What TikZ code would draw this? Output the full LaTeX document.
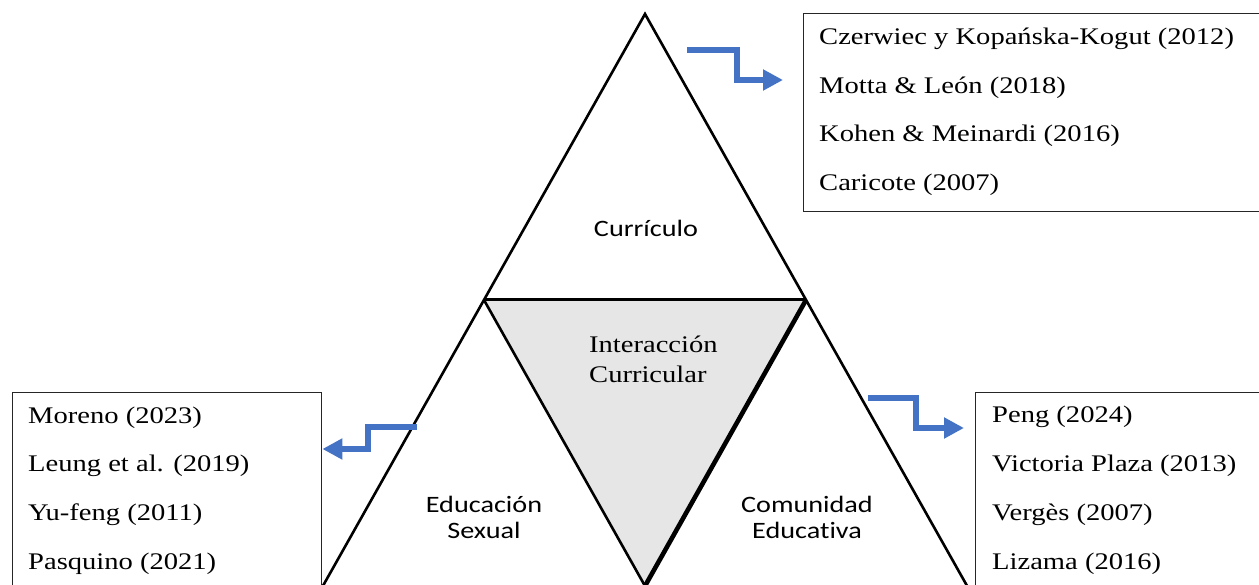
\documentclass[tikz,border=0pt]{standalone}
\usepackage{fontspec}
\setmainfont[FakeStretch=1.2]{Liberation Serif}
\newfontfamily\labelsans[FakeStretch=1.2,Ligatures=NoCommon]{Carlito}
\usetikzlibrary{arrows.meta}
\definecolor{arrowblue}{HTML}{4472C4}
\definecolor{innergray}{HTML}{E6E6E6}
\tikzset{
  edgeline/.style={line width=2.6pt, line join=miter},
  refbox/.style={draw=black!85, line width=1.4pt, rectangle, inner sep=0pt, fill=white},
  reftext/.style={anchor=base west, inner sep=0pt, font=\fontsize{23.8}{28}\selectfont},
  serlabel/.style={anchor=base west, inner sep=0pt, font=\fontsize{23.8}{28}\selectfont},
  sanslabel/.style={anchor=base, inner sep=0pt, font=\labelsans\fontsize{23.5}{28}\selectfont},
  bluearrow/.style={draw=arrowblue, line width=6.2pt, line join=miter,
    -{Triangle[length=20pt,width=20pt]}},
}
\begin{document}
\begin{tikzpicture}[x=1pt,y=-1pt]
\useasboundingbox (0,0) rectangle (1259,585);
\clip (0,0) rectangle (1259,585);
% triangle geometry
\coordinate (apex) at (645,14);
\coordinate (midL) at (484,300);
\coordinate (midR) at (806,300);
\coordinate (botL) at (315,600);
\coordinate (botR) at (975,600);
\coordinate (inbot) at (645,586);
% inner triangle
\fill[innergray] (midL) -- (midR) -- (inbot) -- cycle;
\draw[edgeline] (midL) -- (inbot);
\draw[line width=4.6pt] (midR) -- (inbot);
\draw[line width=3pt] (midL) -- (midR);
% outer triangle
\draw[edgeline] (botL) -- (apex) -- (botR);
% boxes
\node[refbox, anchor=north west, minimum width=470pt, minimum height=198pt] (boxT) at (803,13) {};
\node[refbox, anchor=north west, minimum width=309pt, minimum height=220pt] (boxL) at (12,392) {};
\node[refbox, anchor=north west, minimum width=300pt, minimum height=220pt] (boxR) at (975,392) {};
% box texts
\node[reftext] (t1) at (819,45) {Czerwiec y Kopańska-Kogut (2012)};
\node[reftext] (t2) at (819,93.5) {Motta \& León (2018)};
\node[reftext] (t3) at (819,142) {Kohen \& Meinardi (2016)};
\node[reftext] (t4) at (819,191) {Caricote (2007)};
\node[reftext] (l1) at (28,423) {Moreno (2023)};
\node[reftext] (l2) at (28,471.5) {Leung et al. (2019)};
\node[reftext] (l3) at (28,520) {Yu-feng (2011)};
\node[reftext] (l4) at (28,569) {Pasquino (2021)};
\node[reftext] (r1) at (992,422) {Peng (2024)};
\node[reftext] (r2) at (992,471) {Victoria Plaza (2013)};
\node[reftext] (r3) at (992,520) {Vergès (2007)};
\node[reftext] (r4) at (992,569.5) {Lizama (2016)};
% triangle labels
\node[sanslabel] (cur) at (646,237) {Currículo};
\node[serlabel] (int1) at (589,353) {Interacción};
\node[serlabel] (int2) at (589,382) {Curricular};
\node[sanslabel] (edu1) at (484,512) {Educación};
\node[sanslabel] (edu2) at (484,538) {Sexual};
\node[sanslabel] (com1) at (807,512) {Comunidad};
\node[sanslabel] (com2) at (807,538) {Educativa};
% arrows
\coordinate (aTs) at (687,50);
\coordinate (aTe) at (783,80);
\coordinate (aLs) at (417,427);
\coordinate (aLe) at (boxL.east |- 0,449);
\coordinate (aRs) at (868,398);
\coordinate (aRe) at (964,428);
\draw[bluearrow] (aTs) -- (737,50) |- (aTe);
\draw[bluearrow] (aLs) -- (368,427) |- (aLe);
\draw[bluearrow] (aRs) -- (916,398) |- (aRe);
\end{tikzpicture}
\end{document}
